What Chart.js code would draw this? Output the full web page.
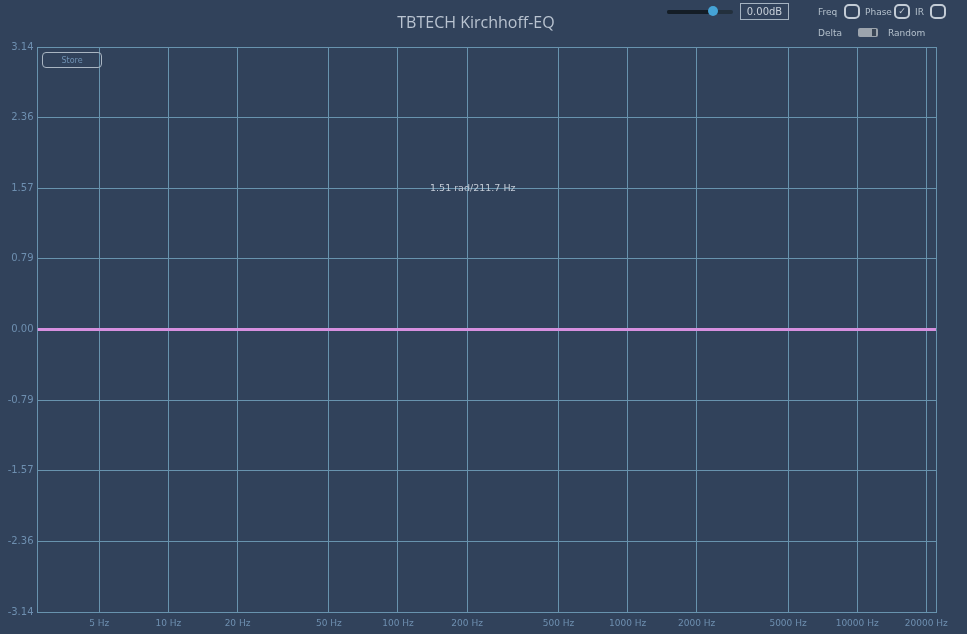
<!DOCTYPE html>
<html>
<head>
<meta charset="utf-8">
<title>TBTECH Kirchhoff-EQ</title>
<script src="https://cdn.jsdelivr.net/npm/chart.js@4"></script>
<style>
  body { margin: 0; background: #31425b; font-family: "DejaVu Sans", sans-serif; overflow: hidden; }
  #wrap { position: absolute; left: 0; top: 0; width: 967px; height: 634px; }
  .title { position: absolute; left: 0; width: 952px; top: 11px; text-align: center; font-family: "Open Sans", sans-serif; font-size: 16px; color: #b9c3d0; }
  .lbl { position: absolute; font-size: 9px; color: #b4c0cc; line-height: 12px; }
  .box { position: absolute; box-sizing: border-box; border: 2px solid #c3ccd6; border-radius: 5px; width: 16px; height: 15px; }
  .track { position: absolute; height: 4px; border-radius: 2px; }
</style>
</head>
<body>
<div id="wrap">
  <canvas id="eqChart" width="967" height="634"></canvas>
</div>
<div class="title">TBTECH Kirchhoff-EQ</div>

<!-- top-right controls -->
<div class="track" style="left:667px;top:10px;width:66px;background:#23303d;"></div>
<div class="track" style="left:667px;top:10px;width:46px;background:#141d26;"></div>
<div style="position:absolute;left:708px;top:6px;width:10px;height:10px;border-radius:5px;background:#45a3d6;"></div>
<div style="position:absolute;left:740px;top:3px;width:49px;height:17px;box-sizing:border-box;border:1px solid #a5b3c1;color:#c8d0d9;font-size:10px;text-align:center;line-height:15px;">0.00dB</div>

<div class="lbl" style="left:818px;top:6px;">Freq</div>
<div class="box" style="left:844px;top:4px;"></div>
<div class="lbl" style="left:865px;top:6px;">Phase</div>
<div class="box" style="left:894px;top:4px;color:#c3ccd6;font-size:9px;line-height:11px;text-align:center;">&#10003;</div>
<div class="lbl" style="left:915px;top:6px;">IR</div>
<div class="box" style="left:930px;top:4px;"></div>

<div class="lbl" style="left:818px;top:27px;">Delta</div>
<div style="position:absolute;left:858px;top:28px;width:20px;height:9px;border-radius:2px;background:#9ca4ad;"></div>
<div style="position:absolute;left:872px;top:29px;width:4px;height:7px;background:#3a4656;"></div>
<div class="lbl" style="left:888px;top:27px;">Random</div>

<div style="position:absolute;left:42px;top:52px;width:60px;height:16px;box-sizing:border-box;border:1px solid #a9b5c2;border-radius:4px;color:#6f90b2;font-size:8px;text-align:center;line-height:15px;">Store</div>

<script>
// axis range (Hz)
const freqMin = 2.69;
const freqMax = 22050;

// frequency tick marks and their labels
const freqTicks = [5, 10, 20, 50, 100, 200, 500, 1000, 2000, 5000, 10000, 20000];
const freqLabels = ["5 Hz", "10 Hz", "20 Hz", "50 Hz", "100 Hz", "200 Hz", "500 Hz", "1000 Hz", "2000 Hz", "5000 Hz", "10000 Hz", "20000 Hz"];

// phase ticks (rad)
const phaseTicks = [-3.14, -2.36, -1.57, -0.79, 0, 0.79, 1.57, 2.36, 3.14];

// phase response (flat)
const freqs = [2.69, 10, 100, 1000, 10000, 22050];
const phase = [0, 0, 0, 0, 0, 0];

// cursor readout
const readoutFreq = 211.7;
const readoutPhase = 1.51;

const gridColor = "#6893ae";
const tickColor = "#6e8fb0";

const readoutPlugin = {
  id: "readout",
  afterDraw(chart) {
    const { ctx, scales } = chart;
    const x = scales.x.getPixelForValue(readoutFreq);
    const y = scales.y.getPixelForValue(readoutPhase);
    ctx.save();
    ctx.font = "9.5px 'DejaVu Sans'";
    ctx.fillStyle = "#c3cbd6";
    ctx.textAlign = "center";
    ctx.textBaseline = "middle";
    ctx.fillText(readoutPhase.toFixed(2) + " rad/" + readoutFreq + " Hz", x, y - 5);
    ctx.restore();
  }
};

const data = {
  datasets: [{
    data: freqs.map((f, i) => ({ x: f, y: phase[i] })),
    borderColor: "#d690df",
    borderWidth: 3,
    pointRadius: 0,
    tension: 0
  }]
};

new Chart(document.getElementById("eqChart"), {
  type: "line",
  data: data,
  options: {
    responsive: false,
    animation: false,
    layout: { padding: { top: 47, right: 31, left: 0, bottom: 0 } },
    plugins: { legend: { display: false }, tooltip: { enabled: false } },
    scales: {
      x: {
        type: "logarithmic",
        min: freqMin,
        max: freqMax,
        afterBuildTicks: s => {
          s.ticks = [freqMin, ...freqTicks, freqMax].map(v => ({ value: v }));
        },
        afterFit: s => { s.height = 22; },
        grid: { color: gridColor, drawTicks: false },
        border: { color: gridColor },
        ticks: {
          autoSkip: false,
          maxRotation: 0,
          padding: 6,
          color: tickColor,
          font: { family: "DejaVu Sans", size: 9 },
          callback: v => {
            const i = freqTicks.indexOf(v);
            return i >= 0 ? freqLabels[i] : "";
          }
        }
      },
      y: {
        min: phaseTicks[0],
        max: phaseTicks[phaseTicks.length - 1],
        afterBuildTicks: s => {
          s.ticks = phaseTicks.map(v => ({ value: v }));
        },
        afterFit: s => { s.width = 37.5; },
        grid: { color: gridColor, drawTicks: false },
        border: { color: gridColor },
        ticks: {
          padding: 4,
          color: tickColor,
          font: { family: "DejaVu Sans", size: 10 },
          callback: v => v.toFixed(2)
        }
      }
    }
  },
  plugins: [readoutPlugin]
});
</script>
</body>
</html>
